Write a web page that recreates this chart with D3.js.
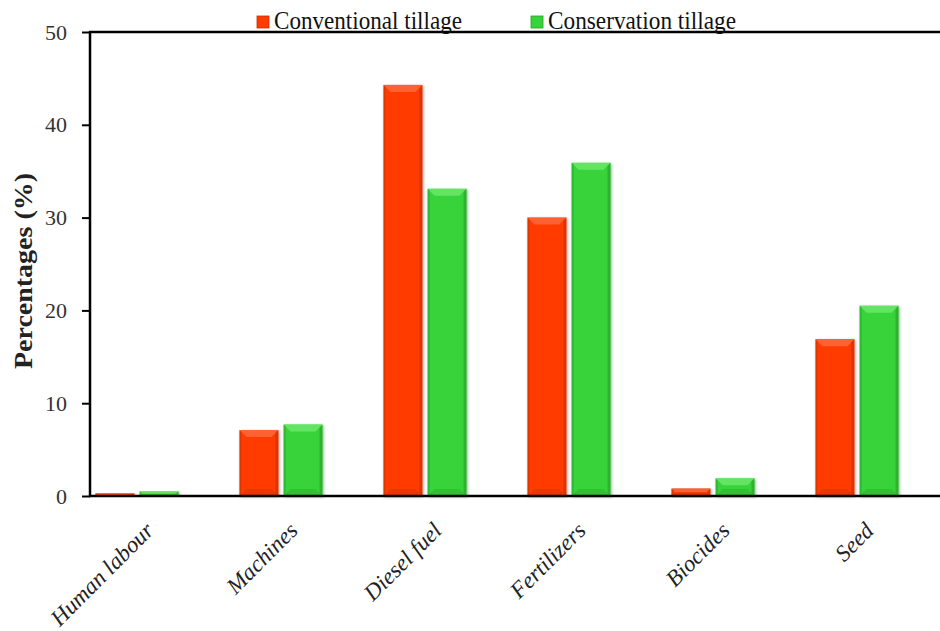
<!DOCTYPE html>
<html><head><meta charset="utf-8">
<script src="https://cdn.jsdelivr.net/npm/d3@7"></script>
<style>body{margin:0;background:#fff}svg{display:block}text{font-family:"Liberation Serif","Times New Roman",serif}</style>
</head><body><svg id="c" width="940" height="631"></svg>
<script>
const categories = ["Human labour","Machines","Diesel fuel","Fertilizers","Biocides","Seed"];
const seriesNames = ["Conventional tillage","Conservation tillage"];
const conventional = [0.3, 7.1, 44.3, 30.0, 0.8, 16.9];
const conservation = [0.5, 7.7, 33.1, 35.9, 1.9, 20.5];
const yTicks = [0,10,20,30,40,50];
const colors = ["#ff3b00","#38d23a"];
const light = ["#ff6a3a","#6ce86c"];
const dark = ["#c82e00","#25a025"];

const svg = d3.select("#c");
const y = d3.scaleLinear().domain([0,50]).range([496,32]);
const x = d3.scaleBand().domain(categories).range([65,929]).paddingInner(0.424).paddingOuter(0.212);
const xs = d3.scaleBand().domain([0,1]).range([0,x.bandwidth()]).paddingInner(0.12);
const series = [conventional, conservation];

const defs = svg.append("defs");
const f = defs.append("filter").attr("id","sh").attr("x","-20%").attr("y","-20%").attr("width","140%").attr("height","140%");
f.append("feGaussianBlur").attr("in","SourceAlpha").attr("stdDeviation",1.5).attr("result","b");
f.append("feOffset").attr("in","b").attr("dx",1).attr("dy",1).attr("result","o");
f.append("feComponentTransfer").attr("in","o").attr("result","o2").append("feFuncA").attr("type","linear").attr("slope",0.35);
const m = f.append("feMerge"); m.append("feMergeNode").attr("in","o2"); m.append("feMergeNode").attr("in","SourceGraphic");

const bars = [];
series.forEach((vals,si)=>vals.forEach((v,i)=>bars.push({si,v,c:categories[i]})));
const g = svg.append("g");
bars.forEach(d=>{
  const x0 = x(d.c)+xs(d.si), w = xs.bandwidth();
  const y0 = y(d.v), y1 = y(0), h = y1-y0;
  const b = Math.min(7, h/2);
  const bg = g.append("g").attr("filter","url(#sh)");
  bg.append("rect").attr("x",x0).attr("y",y0).attr("width",w).attr("height",h).attr("fill",colors[d.si]);
  bg.append("polygon").attr("points",[[x0,y0],[x0+w,y0],[x0+w-b,y0+b],[x0+b,y0+b]].join(" ")).attr("fill",light[d.si]).attr("opacity",0.85);
  bg.append("polygon").attr("points",[[x0,y1],[x0+w,y1],[x0+w-b,y1-b],[x0+b,y1-b]].join(" ")).attr("fill",dark[d.si]).attr("opacity",0.35);
  bg.append("polygon").attr("points",[[x0,y0],[x0+2,y0+2],[x0+2,y1-2],[x0,y1]].join(" ")).attr("fill",dark[d.si]).attr("opacity",0.5);
  bg.append("polygon").attr("points",[[x0+w,y0],[x0+w-3,y0+3],[x0+w-3,y1-3],[x0+w,y1]].join(" ")).attr("fill",dark[d.si]).attr("opacity",0.6);
});

// axes
const ya = svg.append("g").attr("transform","translate(90,0)")
  .call(d3.axisLeft(y).tickValues(yTicks).tickSize(8).tickPadding(15).tickFormat(d3.format("d")));
ya.select(".domain").remove();
ya.selectAll(".tick line").attr("stroke","#000").attr("stroke-width",2);
ya.selectAll(".tick text").attr("font-size",22).attr("fill","#333").style("font-family","Liberation Serif");
svg.append("line").attr("x1",90).attr("x2",90).attr("y1",31).attr("y2",497).attr("stroke","#000").attr("stroke-width",2.5);
svg.append("line").attr("x1",89).attr("x2",940).attr("y1",32).attr("y2",32).attr("stroke","#000").attr("stroke-width",2.5);

const xa = svg.append("g").attr("transform","translate(0,496)").call(d3.axisBottom(x).tickSize(0));
xa.select(".domain").remove();
xa.selectAll(".tick text").attr("font-size",23).attr("font-style","italic").attr("fill","#222")
  .attr("text-anchor","end").attr("dy",0).attr("y",0)
  .style("font-family","Liberation Serif")
  .attr("transform","translate(18,36) rotate(-45)");
svg.append("line").attr("x1",89).attr("x2",940).attr("y1",496).attr("y2",496).attr("stroke","#000").attr("stroke-width",2.5);

svg.append("text").attr("transform","translate(32,271) rotate(-90)").attr("text-anchor","middle")
  .attr("font-size",26).attr("font-weight","bold").attr("fill","#222")
  .attr("textLength",196).attr("lengthAdjust","spacingAndGlyphs").text("Percentages (%)");

// legend
const lg = svg.append("g");
const lx = [257, 531];
const lw = [188, 188];
seriesNames.forEach((n,i)=>{
  lg.append("rect").attr("x",lx[i]).attr("y",16).attr("width",12).attr("height",12).attr("fill",colors[i]).attr("stroke",dark[i]).attr("stroke-width",0.8);
  lg.append("text").attr("x",lx[i]+17).attr("y",29).attr("font-size",25).attr("fill","#111")
    .attr("textLength",lw[i]).attr("lengthAdjust","spacingAndGlyphs").text(n);
});
</script></body></html>
